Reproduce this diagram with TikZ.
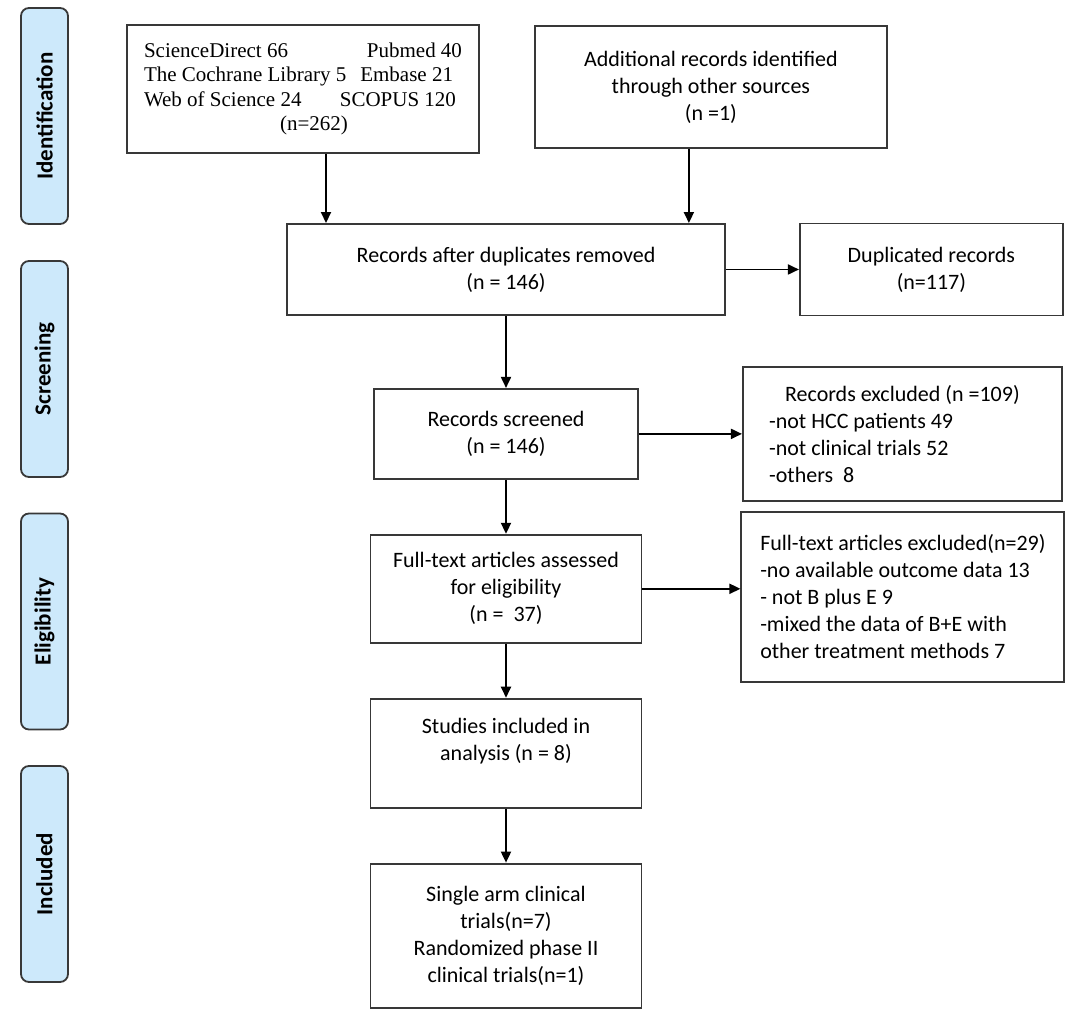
\documentclass[tikz,border=0pt]{standalone}
\usepackage{fontspec}
\setmainfont{Carlito}
\newfontfamily\timesfont{Liberation Serif}
\usetikzlibrary{arrows.meta, positioning}
\definecolor{stageblue}{RGB}{205,233,251}
\definecolor{edgegray}{RGB}{56,56,56}

\begin{document}
\begin{tikzpicture}[x=1pt, y=1pt]
		\tikzset {>={Triangle[length=11pt, width=10pt]}, node distance=54pt,
			box/.style={draw=edgegray, line width=1.9pt, inner sep=0pt, align=center, font=\fontsize{22}{27}\selectfont},
			stage/.style={draw=edgegray, fill=stageblue, line width=1.8pt, rounded corners=8pt, inner sep=0pt, minimum width=216pt, minimum height=47pt, rotate=90, font=\bfseries\fontsize{23}{26}\selectfont},
			flow/.style={->, line width=1.8pt} }

		\useasboundingbox (0,0) rectangle (1080,1009);

		% phase labels
		\node[stage] (ident) at (44.5,893) {Identification};
		\node[stage] (screen) at (44.5,640) {Screening};
		\node[stage] (elig) at (44.5,387.5) {Eligibility};
		\node[stage] (incl) at (44.5,135) {Included};

		% flow boxes
		\node[box, minimum width=352pt, minimum height=128pt, font=\timesfont\fontsize{21}{24.5}\selectfont] (src) at (303,920)
			{\makebox[318pt]{ScienceDirect 66\hfill Pubmed 40}\\
			\makebox[318pt]{The Cochrane Library 5\hfill Embase 21\hspace*{9pt}}\\
			\makebox[318pt]{Web of Science 24\hfill SCOPUS 120\hspace*{6pt}}\\
			\makebox[318pt]{\hspace*{22pt}\hfill(n=262)\hfill}};
		\node[box, right=54pt of src, yshift=2pt, minimum width=352pt, minimum height=122pt] (other) {Additional records identified\\through other sources\\(n =1)};
		\node[box, minimum width=438pt, minimum height=91pt] (dedup) at (506,739.5) {Records after duplicates removed\\(n = 146)};
		\node[box, right=73pt of dedup, minimum width=263pt, minimum height=92pt] (dup) {Duplicated records\\(n=117)};
		\node[box, below=72pt of dedup, minimum width=264pt, minimum height=90pt] (screened) {Records screened\\(n = 146)};
		\node[box, right=103pt of screened, minimum width=319pt, minimum height=134pt, align=left] (recexcl)
			{\hspace*{16pt}Records excluded (n =109)\hspace*{16pt}\\-not HCC patients 49\\-not clinical trials 52\\-others\ \ 8};
		\node[box, below=of screened, minimum width=271pt, minimum height=108pt] (fulltext) {Full-text articles assessed\\for eligibility\\(n =\ \ 37)};
		\node[box, right=98pt of fulltext, yshift=-8pt, minimum width=323pt, minimum height=170pt, align=left] (ftexcl)
			{Full-text articles excluded(n=29)\\-no available outcome data 13\\- not B plus E 9\\-mixed the data of B+E with\\other treatment methods 7};
		\node[box, below=of fulltext, minimum width=271pt, minimum height=109pt] (studies) {Studies included in\\analysis (n = 8)\\\mbox{}};
		\node[box, below=of studies, minimum width=271pt, minimum height=144pt] (final) {Single arm clinical\\trials(n=7)\\Randomized phase II\\clinical trials(n=1)};

		\coordinate (srcout) at ([xshift=23pt]src.south);
		\coordinate (otherout) at ([xshift=-22pt]other.south);

		% connectors
		\draw[flow] (srcout) -- (srcout |- dedup.north);
		\draw[flow] (otherout) -- (otherout |- dedup.north);
		\draw[flow] (dedup.east) -- (dedup.east -| dup.west);
		\draw[flow] (dedup.south) -- (screened.north);
		\draw[flow] (screened.east) -- (screened.east -| recexcl.west);
		\draw[flow] (screened.south) -- (fulltext.north);
		\draw[flow] (fulltext.east) -- (fulltext.east -| ftexcl.west);
		\draw[flow] (fulltext.south) -- (studies.north);
		\draw[flow] (studies.south) -- (final.north);
\end{tikzpicture}
\end{document}
